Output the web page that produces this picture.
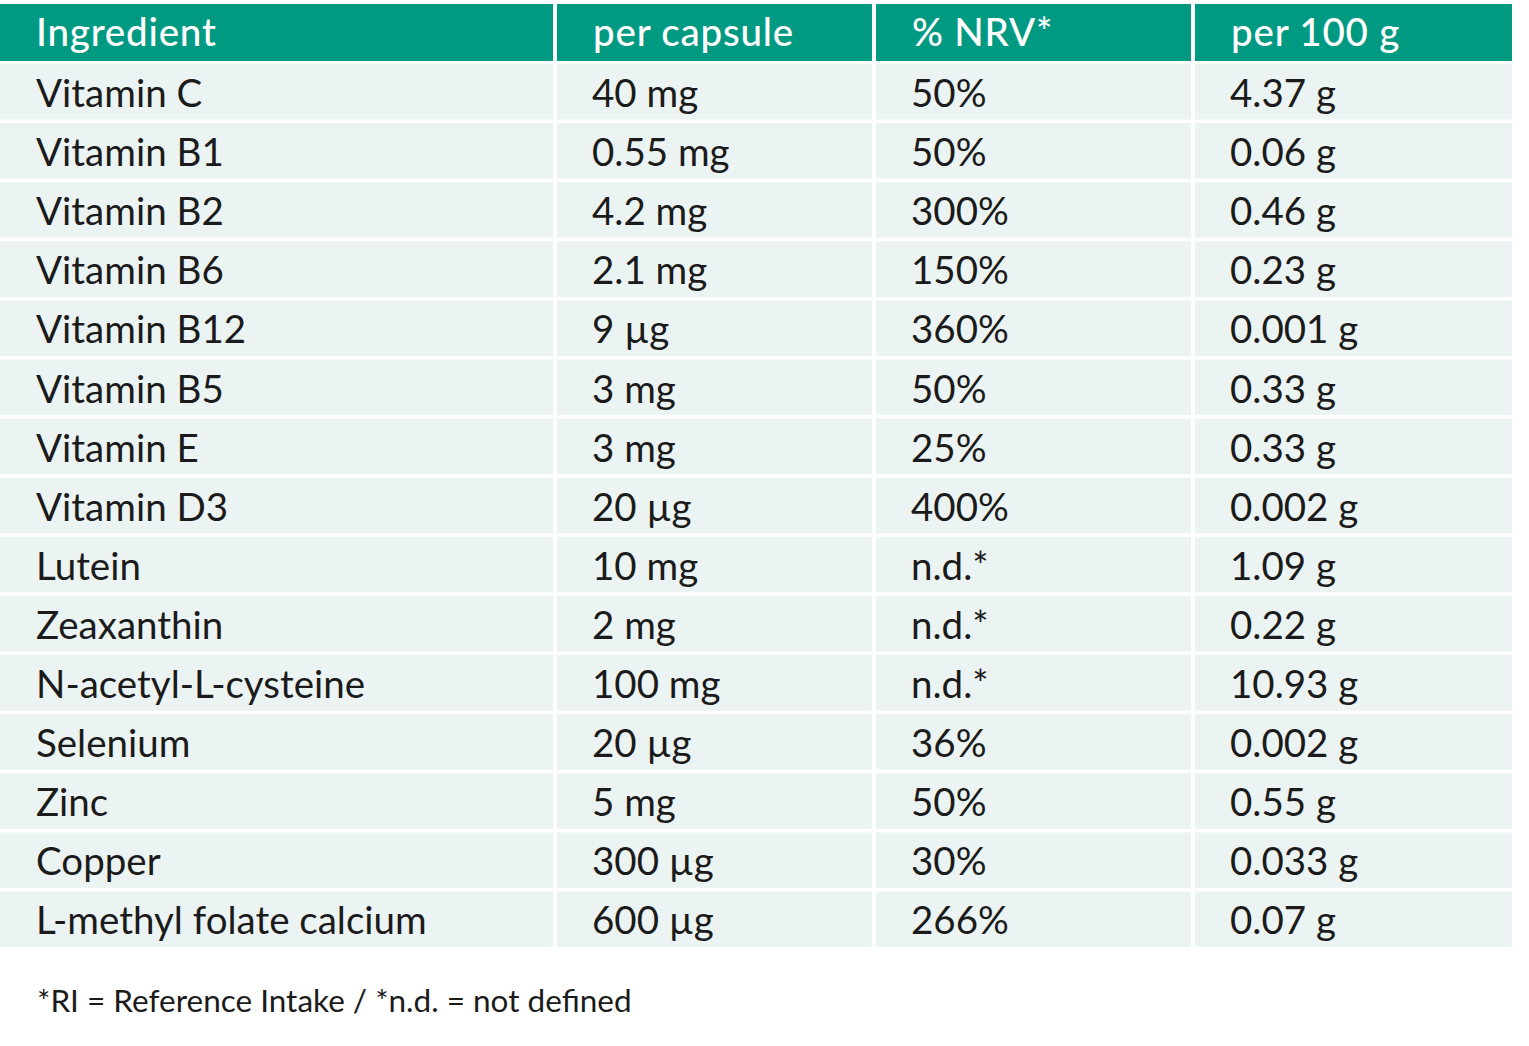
<!DOCTYPE html>
<html>
<head>
<meta charset="utf-8">
<script src="https://cdn.jsdelivr.net/npm/d3@7"></script>
<style>
  html, body { margin: 0; padding: 0; background: #fff; }
  svg { display: block; }
</style>
</head>
<body>
<div id="app"></div>
<script>
const headers = ["Ingredient", "per capsule", "% NRV*", "per 100 g"];

const ingredients = [
  "Vitamin C", "Vitamin B1", "Vitamin B2", "Vitamin B6", "Vitamin B12",
  "Vitamin B5", "Vitamin E", "Vitamin D3", "Lutein", "Zeaxanthin",
  "N-acetyl-L-cysteine", "Selenium", "Zinc", "Copper", "L-methyl folate calcium"
];

const perCapsule = [
  "40 mg", "0.55 mg", "4.2 mg", "2.1 mg", "9 µg",
  "3 mg", "3 mg", "20 µg", "10 mg", "2 mg",
  "100 mg", "20 µg", "5 mg", "300 µg", "600 µg"
];

const nrv = [
  "50%", "50%", "300%", "150%", "360%",
  "50%", "25%", "400%", "n.d.*", "n.d.*",
  "n.d.*", "36%", "50%", "30%", "266%"
];

const per100g = [
  "4.37 g", "0.06 g", "0.46 g", "0.23 g", "0.001 g",
  "0.33 g", "0.33 g", "0.002 g", "1.09 g", "0.22 g",
  "10.93 g", "0.002 g", "0.55 g", "0.033 g", "0.07 g"
];

const footnote = "*RI = Reference Intake / *n.d. = not defined";

const screen = { width: 1529, height: 1046 };
const colors = { header: "#009a82", row: "#ebf4f2", text: "#1b1b1b", headText: "#ffffff" };
const font = "Lato, 'Noto Sans', sans-serif";

// column edges in px (left, right) - gap between cells is white
const colEdges = [[0, 553], [557, 872], [876, 1191], [1195, 1512]];
const padLeft = 35;

const rows = ingredients.map((d, i) => [d, perCapsule[i], nrv[i], per100g[i]]);

const y = d3
  .scaleBand()
  .domain(d3.range(rows.length))
  .range([64, 947])
  .paddingInner(0.06);

const svg = d3
  .create("svg")
  .attr("width", screen.width)
  .attr("height", screen.height);

// header
const head = svg.append("g").attr("class", "header");
head
  .selectAll("rect")
  .data(headers)
  .join("rect")
  .attr("x", (d, i) => colEdges[i][0])
  .attr("width", (d, i) => colEdges[i][1] - colEdges[i][0])
  .attr("y", 4)
  .attr("height", 57)
  .attr("fill", colors.header);

head
  .selectAll("text")
  .data(headers)
  .join("text")
  .attr("x", (d, i) => colEdges[i][0] + padLeft + 1)
  .attr("y", 46)
  .attr("fill", colors.headText)
  .style("font-family", font)
  .style("font-size", "38.5px")
  .style("font-weight", 500)
  .style("letter-spacing", "0.8px")
  .text((d) => d);

// body rows
const body = svg
  .append("g")
  .selectAll("g")
  .data(rows)
  .join("g")
  .attr("transform", (d, i) => `translate(0,${y(i)})`);

body
  .selectAll("rect")
  .data((d) => d)
  .join("rect")
  .attr("x", (d, i) => colEdges[i][0])
  .attr("width", (d, i) => colEdges[i][1] - colEdges[i][0])
  .attr("height", y.bandwidth())
  .attr("fill", colors.row);

body
  .selectAll("text")
  .data((d) => d)
  .join("text")
  .attr("x", (d, i) => colEdges[i][0] + padLeft + (i === 0 ? 1 : 0))
  .attr("y", 43)
  .attr("fill", colors.text)
  .style("font-family", font)
  .style("font-size", "38.5px")
  .style("font-weight", 400)
  .text((d) => d);

svg
  .append("text")
  .attr("x", 37)
  .attr("y", 1012)
  .attr("fill", colors.text)
  .style("font-family", font)
  .style("font-size", "31.5px")
  .style("font-weight", 400)
  .text(footnote);

document.getElementById("app").append(svg.node());
</script>
</body>
</html>
